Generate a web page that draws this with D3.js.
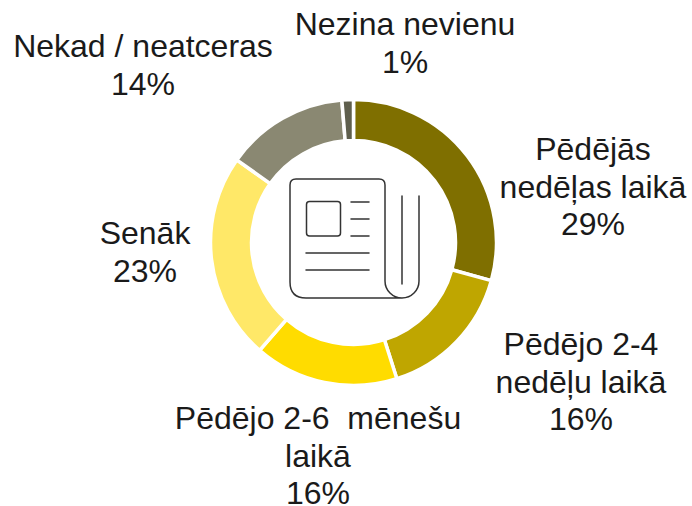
<!DOCTYPE html>
<html><head><meta charset="utf-8"><script src="https://cdn.jsdelivr.net/npm/d3@7"></script>
<style>html,body{margin:0;background:#fff}svg{display:block}text{font-family:"Liberation Sans",Arial,sans-serif;font-size:32px;fill:#1a1a1a;text-anchor:middle}</style></head><body>
<svg id="c" width="692" height="506"></svg>
<script>
const categories=["Pēdējās nedēļas laikā","Pēdējo 2-4 nedēļu laikā","Pēdējo 2-6 mēnešu laikā","Senāk","Nekad / neatceras","Nezina nevienu"];
const values=[29.3,15.8,16.3,23.4,13.9,1.3];
const colors=["#7f6f00","#bfa600","#ffdc00","#ffe868","#8a8872","#5f5f4d"];
const labelLines=[["Pēdējās","nedēļas laikā","29%"],["Pēdējo 2-4","nedēļu laikā","16%"],["Pēdējo 2-6  mēnešu","laikā","16%"],["Senāk","23%"],["Nekad / neatceras","14%"],["Nezina nevienu","1%"]];
const labelX=[593,581,318,145,143,405];
const labelY=[160,355,429,244,57,35];
const svg=d3.select("#c");
const g=svg.append("g").attr("transform","translate(353.5,242.5)");
const pie=d3.pie().sort(null).value(d=>d)(values);
const arc=d3.arc().innerRadius(102).outerRadius(143);
g.selectAll("path").data(pie).join("path").attr("d",arc).attr("fill",(d,i)=>colors[i]).attr("stroke","#fff").attr("stroke-width",3.5);
labelLines.forEach((ls,i)=>{const t=svg.append("text").attr("transform",`translate(${labelX[i]},${labelY[i]})`);
 ls.forEach((l,j)=>t.append("tspan").attr("x",0).attr("y",j*37.5).style("white-space","pre").text(l));});
const ic=svg.append("g").attr("fill","none").attr("stroke","#333").attr("stroke-width",1.5).attr("stroke-linecap","round").attr("stroke-linejoin","round");
ic.append("path").attr("d","M385 281V185Q385 179 379 179H296Q290 179 290 185V282Q290 298 306 298H402A17 17 0 0 0 419 281V196M402 196V284M385 281A17 17 0 0 0 402 298");
ic.append("rect").attr("x",306.5).attr("y",201.5).attr("width",34).attr("height",34.5).attr("rx",3);
[[351,369,202],[351,369,219],[351,369,236],[306,369,253],[306,369,270]].forEach(d=>ic.append("line").attr("x1",d[0]).attr("x2",d[1]).attr("y1",d[2]).attr("y2",d[2]));
</script></body></html>
